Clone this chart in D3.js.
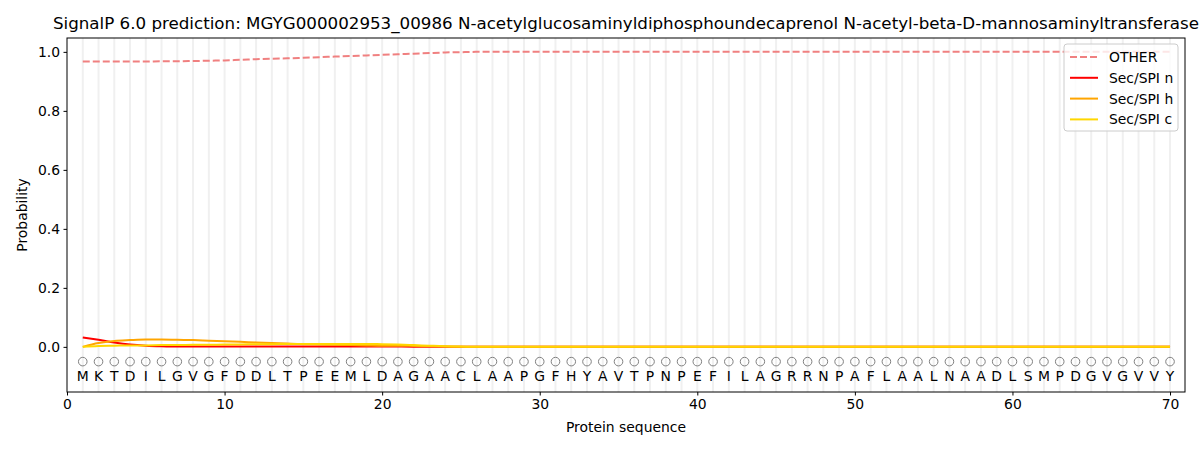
<!DOCTYPE html>
<html><head><meta charset="utf-8">
<script src="https://cdn.jsdelivr.net/npm/d3@7"></script>
<style>body{margin:0;background:#fff;} svg{font-family:"DejaVu Sans",sans-serif;}</style>
</head><body><svg id="c" width="1200" height="450"></svg>
<script>
const sequence = "MKTDILGVGFDDLTPEEMLDAGAACLAAPGFHYAVTPNPEFILAGRRNPAFLAALNAADLSMPDGVGVVY".split("");
const positions = sequence.map((d,i)=>i+1);
const otherVals = [0.967,0.967,0.967,0.967,0.967,0.968,0.968,0.969,0.970,0.971,0.973,0.975,0.977,0.978,0.980,0.982,0.984,0.986,0.988,0.990,0.992,0.994,0.996,0.998,0.999,1,1,1,1,1,1,1,1,1,1,1,1,1,1,1,1,1,1,1,1,1,1,1,1,1,1,1,1,1,1,1,1,1,1,1,1,1,1,1,1,1,1,1,1,1];
const secN = [0.032,0.024,0.015,0.008,0.004,0.002,0.001,0.001,0.001,0.001,0.001,0.001,0.001,0.001,0.001,0.001,0.001,0.001,0.001,0.001,0.001,0.0005,0.0003,0,0,0,0,0,0,0,0,0,0,0,0,0,0,0,0,0,0,0,0,0,0,0,0,0,0,0,0,0,0,0,0,0,0,0,0,0,0,0,0,0,0,0,0,0,0,0];
const secH = [0.0,0.013,0.020,0.023,0.025,0.025,0.024,0.023,0.021,0.019,0.017,0.015,0.013,0.011,0.009,0.008,0.007,0.006,0.005,0.004,0.004,0.003,0.002,0.001,0.0005,0,0,0,0,0,0,0,0,0,0,0,0,0,0,0,0,0,0,0,0,0,0,0,0,0,0,0,0,0,0,0,0,0,0,0,0,0,0,0,0,0,0,0,0,0];
const secC = [0.0,0.003,0.004,0.005,0.005,0.006,0.006,0.007,0.007,0.008,0.008,0.009,0.009,0.010,0.010,0.010,0.010,0.010,0.010,0.009,0.008,0.006,0.004,0.002,0.001,0,0,0,0,0,0,0,0,0,0,0,0,0,0,0,0,0,0,0,0,0,0,0,0,0,0,0,0,0,0,0,0,0,0,0,0,0,0,0,0,0,0,0,0,0];
const xTicks = [0,10,20,30,40,50,60,70];
const yTicks = [0.0,0.2,0.4,0.6,0.8,1.0];
const seriesNames = ["OTHER","Sec/SPI n","Sec/SPI h","Sec/SPI c"];
const seriesColors = ["#f08080","#ff0000","#ffa500","#ffd700"];
const titleText = "SignalP 6.0 prediction: MGYG000002953_00986 N-acetylglucosaminyldiphosphoundecaprenol N-acetyl-beta-D-mannosaminyltransferase";

const svg = d3.select("#c");
const L=67, R=1185, T=38, B=392;
const x = d3.scaleLinear().domain([0,70.95]).range([L,R]);
const y = d3.scaleLinear().domain([-0.153,1.047]).range([B,T]);

// grid
svg.append("g").selectAll("line").data(positions).join("line")
  .attr("x1",d=>x(d)).attr("x2",d=>x(d)).attr("y1",T).attr("y2",B)
  .attr("stroke","#f0f0f0").attr("stroke-width",2);

// circles and letters
svg.append("g").selectAll("circle").data(positions).join("circle")
  .attr("cx",d=>x(d)).attr("cy",y(-0.05)).attr("r",4.3)
  .attr("fill","none").attr("stroke","#808080").attr("stroke-width",1);
svg.append("g").selectAll("text").data(sequence).join("text")
  .attr("x",(d,i)=>x(i+1)).attr("y",y(-0.1)).attr("text-anchor","middle")
  .attr("dominant-baseline","central").attr("font-size",13.9).text(d=>d);

const allSeries=[otherVals,secN,secH,secC];
const line = d3.line().x((d,i)=>x(i+1)).y(d=>y(d)).curve(d3.curveMonotoneX);
allSeries.forEach((s,k)=>{
  svg.append("path").datum(s).attr("d",line).attr("fill","none")
    .attr("stroke",seriesColors[k]).attr("stroke-width",2)
    .attr("stroke-dasharray",k===0?"7,3":null);
});

// axes frame
svg.append("rect").attr("x",L).attr("y",T).attr("width",R-L).attr("height",B-T)
  .attr("fill","none").attr("stroke","#000").attr("stroke-width",1);

const xa = svg.append("g").attr("transform",`translate(0,${B})`)
  .call(d3.axisBottom(x).tickValues(xTicks).tickSize(3.5).tickPadding(3.5).tickFormat(d3.format("d")));
const ya = svg.append("g").attr("transform",`translate(${L},0)`)
  .call(d3.axisLeft(y).tickValues(yTicks).tickSize(3.5).tickPadding(3.5).tickFormat(d3.format(".1f")));
[xa,ya].forEach(a=>{a.select(".domain").remove();
  a.selectAll("text").attr("font-size",13.9).attr("font-family","DejaVu Sans").attr("fill","#000");
  a.selectAll("line").attr("stroke","#000");});

svg.append("text").attr("x",(L+R)/2).attr("y",432).attr("text-anchor","middle")
  .attr("font-size",13.9).text("Protein sequence");
svg.append("text").attr("transform",`translate(27,${(T+B)/2}) rotate(-90)`).attr("text-anchor","middle")
  .attr("font-size",13.9).text("Probability");
svg.append("text").attr("x",(L+R)/2).attr("y",29).attr("text-anchor","middle")
  .attr("font-size",16.7).text(titleText);

// legend
const lg = svg.append("g");
lg.append("rect").attr("x",1064).attr("y",44).attr("width",114).attr("height",87).attr("rx",3)
  .attr("fill","#fff").attr("fill-opacity",0.8).attr("stroke","#ccc");
seriesNames.forEach((n,k)=>{
  const yy = 57 + k*20.8;
  lg.append("line").attr("x1",1070).attr("x2",1098).attr("y1",yy).attr("y2",yy)
    .attr("stroke",seriesColors[k]).attr("stroke-width",2).attr("stroke-dasharray",k===0?"7,3":null);
  lg.append("text").attr("x",1109).attr("y",yy).attr("dominant-baseline","central")
    .attr("font-size",13.9).text(n);
});
</script></body></html>
